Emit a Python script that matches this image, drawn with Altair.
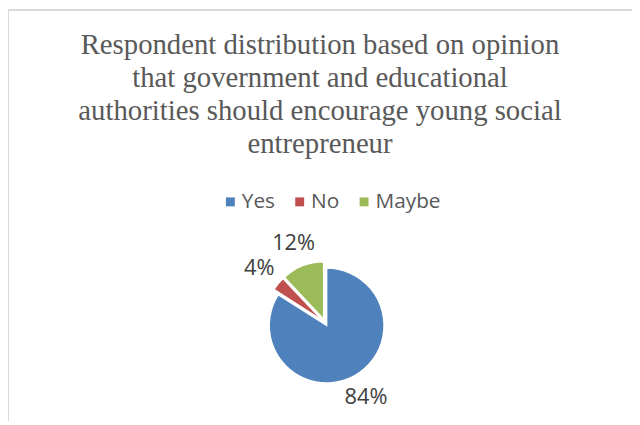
import math
import altair as alt
import pandas as pd

categories = ["Yes", "No", "Maybe"]
values = [84, 4, 12]
labels = ["84%", "4%", "12%"]
colors = ["#4F81BD", "#C0504D", "#9BBB59"]
title_lines = [
    "Respondent distribution based on opinion",
    "that government and educational",
    "authorities should encourage young social",
    "entrepreneur",
]

W, H = 630, 415
CX, CY = 320, 315.5
EXPLODE = 3.5

# slice explosion offsets derived from each slice's mid angle
total = sum(values)
cum = 0
px, py = [], []
for v in values:
    mid = (cum + v / 2) / total * 2 * math.pi
    cum += v
    px.append(CX + EXPLODE * math.sin(mid))
    py.append(CY - EXPLODE * math.cos(mid))

df = pd.DataFrame({"cat": categories, "value": values, "label": labels,
                   "ord": list(range(len(categories))), "px": px, "py": py})

base = alt.Chart(df).encode(
    theta=alt.Theta("value:Q", stack=True),
    order=alt.Order("ord:Q"),
)

pie = base.mark_arc(outerRadius=58, stroke="white", strokeWidth=1.5).encode(
    color=alt.Color("cat:N", scale=alt.Scale(domain=categories, range=colors),
                    sort=categories,
                    legend=alt.Legend(title=None, orient="none", direction="horizontal",
                                      legendX=214, legendY=183, symbolType="square",
                                      symbolSize=81, symbolStrokeWidth=0,
                                      labelFont="Open Sans", labelFontSize=21,
                                      labelColor="#595959", columnPadding=14,
                                      symbolOffset=0, labelOffset=1)),
    x=alt.X("px:Q", scale=None, axis=None),
    y=alt.Y("py:Q", scale=None, axis=None),
)

text = base.mark_text(font="Open Sans", fontSize=22, color="#404040",
                      align="center", baseline="middle").encode(
    text="label:N", radius=alt.value(86), x=alt.value(CX), y=alt.value(CY),
)

frame_left = alt.Chart(df).mark_rule(color="#D9D9D9", strokeWidth=2).encode(
    x=alt.value(0), y=alt.value(0), y2=alt.value(H))
frame_top = alt.Chart(df).mark_rule(color="#D9D9D9", strokeWidth=2).encode(
    x=alt.value(0), x2=alt.value(W), y=alt.value(0))

chart = alt.layer(frame_left, frame_top, pie, text).properties(
    width=W, height=H,
    autosize=alt.AutoSizeParams(type="none"),
    padding=0,
    title=alt.TitleParams(text=title_lines, font="Liberation Serif", fontSize=29,
                          fontWeight="normal", color="#595959", lineHeight=33.5,
                          anchor="middle", frame="group", baseline="top",
                          offset=0, dy=151.5),
).configure_view(stroke=None)

chart.save("out.html", embed_options={"renderer": "svg", "actions": False})
